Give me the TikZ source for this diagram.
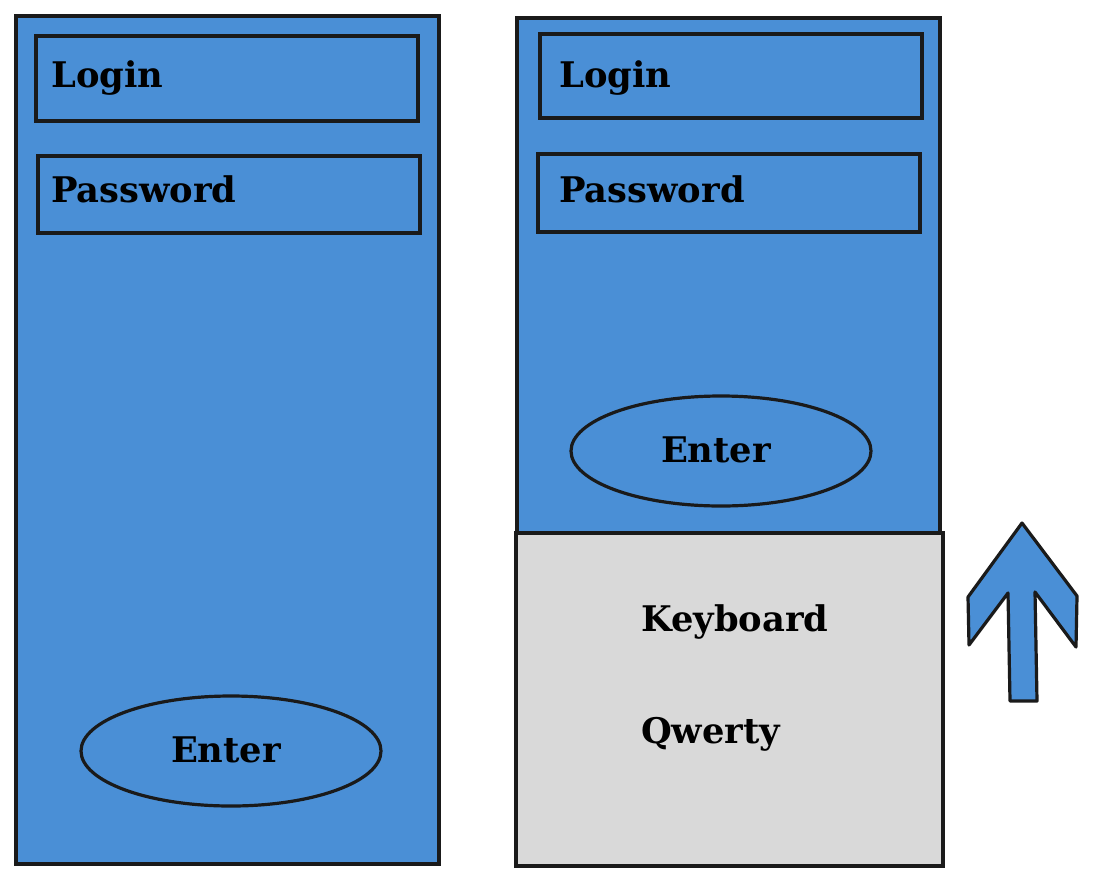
\documentclass[tikz,border=0pt]{standalone}
\usepackage{fontspec}
\setmainfont{DejaVu Serif}
\usetikzlibrary{shapes.geometric}
\definecolor{scr}{RGB}{74,143,214}
\definecolor{kbd}{RGB}{217,217,217}
\definecolor{ln}{RGB}{26,26,26}
\tikzset{
  panel/.style={draw=ln, line width=3.2pt, fill=scr},
  field/.style={draw=ln, line width=3.2pt},
  btn/.style={draw=ln, line width=3.2pt, fill=scr},
  lbl/.style={font=\bfseries\fontsize{35.3}{42}\selectfont, anchor=west, inner sep=0pt},
}
\begin{document}
\begin{tikzpicture}[x=1pt,y=-1pt]
\useasboundingbox (0,0) rectangle (1099,878);
% left phone
\draw[panel] (16,16) rectangle (439,864);
\draw[field] (36,36) rectangle (418,121);
\node[lbl] (l1) at (51,78) {Login};
\draw[field] (38,156) rectangle (420,233);
\node[lbl] (p1) at (51,189) {Password};
\node[btn, ellipse, minimum width=300, minimum height=110] (e1) at (231,751) {};
\node[lbl, anchor=center] (t1) at (226,750) {Enter};
% right phone
\draw[panel] (517,18) rectangle (940,533);
\draw[field] (540,34) rectangle (922,118);
\node[lbl] (l2) at (559,78) {Login};
\draw[field] (538,154) rectangle (920,232);
\node[lbl] (p2) at (559,189) {Password};
\node[btn, ellipse, minimum width=300, minimum height=110] (e2) at (721,451) {};
\node[lbl, anchor=center] (t2) at (716,450) {Enter};
% keyboard
\draw[draw=ln, line width=3.2pt, fill=kbd] (516,533) rectangle (943,866);
\node[lbl] (k) at (641,622) {Keyboard};
\node[lbl] (q) at (641,734) {Qwerty};
% arrow
\draw[draw=ln, line width=3.2pt, fill=scr, line join=round]
  (1022,523) -- (1077,596) -- (1076,647) -- (1035,592) -- (1037,701)
  -- (1010,701) -- (1008,593) -- (969,645) -- (968,597) -- cycle;
\end{tikzpicture}
\end{document}
